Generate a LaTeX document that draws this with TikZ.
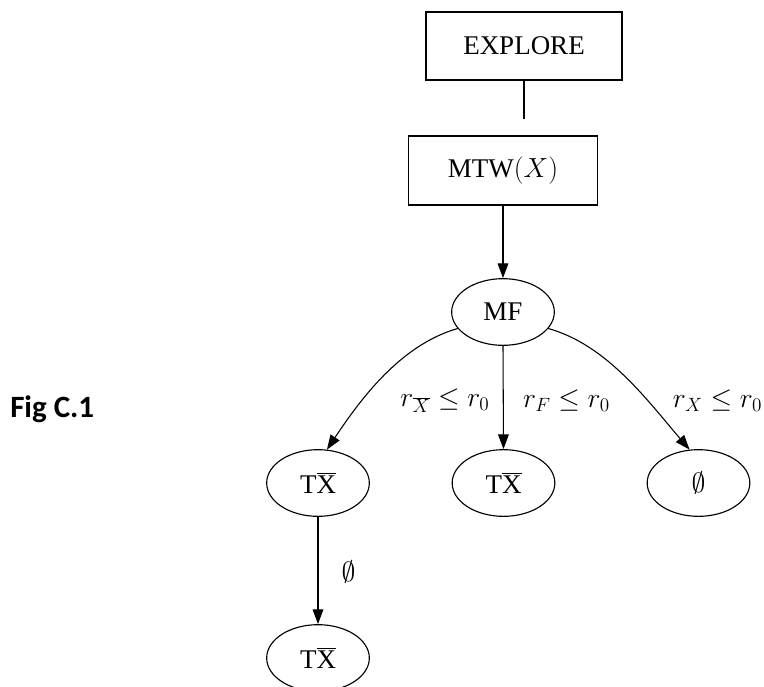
\documentclass[tikz,border=0pt]{standalone}
\usepackage{fontspec}
\setmainfont{Liberation Serif}
\newfontfamily\figfont{Carlito}
\usetikzlibrary{arrows.meta,shapes.geometric}
\newcommand\mainsize{\fontsize{20.25}{24}\selectfont}
\tikzset{
  box/.style={draw, line width=0.9pt, minimum height=51pt, inner sep=0pt, font=\mainsize},
  oval/.style={draw, ellipse, line width=0.85pt, minimum width=77pt, minimum height=50pt, inner sep=0pt, font=\mainsize},
  link/.style={line width=0.8pt},
  arc/.style={link, -{Triangle[length=11pt,width=8pt]}},
  cond/.style={font=\mainsize, inner sep=0pt},
}
\begin{document}
\begin{tikzpicture}[x=0.75pt,y=-0.75pt]
\useasboundingbox (0,0) rectangle (764,686);
% boxes and states
\node[box, minimum width=147pt] (explore) at (524,46) {EXPLORE};
\node[box, minimum width=141.75pt, minimum height=51.75pt] (mtw) at (503,170.5) {MTW$(X)$};
\coordinate (stub) at (524,119);
\node[oval] (mf) at (503,312) {MF};
\node[oval] (tl) at (318,483) {T$\overline{\mbox{X}}$};
\node[oval] (tm) at (503.5,483) {T$\overline{\mbox{X}}$};
\node[oval] (ep) at (698.5,483) {$\emptyset$};
\node[oval] (tb) at (318,658) {T$\overline{\mbox{X}}$};
% connectors
\draw[link] (explore.south) -- (stub);
\draw[arc] (mtw.south) -- (mf.north);
\draw[arc] (mf.south) -- (tm.north);
\draw[arc] (mf.200) .. controls (400,345) and (360,400) .. (tl.75);
\draw[arc] (mf.340) .. controls (607,345) and (647,400) .. (ep.105);
\draw[arc] (tl.south) -- (tb.north);
% edge conditions
\node[cond] (c1) at (445,401) {$r_{\overline{X}} \le r_0$};
\node[cond] (c2) at (566.5,401) {$r_F \le r_0$};
\node[cond] (c3) at (717.5,401) {$r_X \le r_0$};
\node[cond] (c4) at (348.5,572) {$\emptyset$};
% caption
\node[font=\fontsize{23.25}{28}\selectfont\figfont\bfseries, anchor=base west, inner sep=0pt] (fig) at (10,417) {Fig C.1};
\end{tikzpicture}
\end{document}
